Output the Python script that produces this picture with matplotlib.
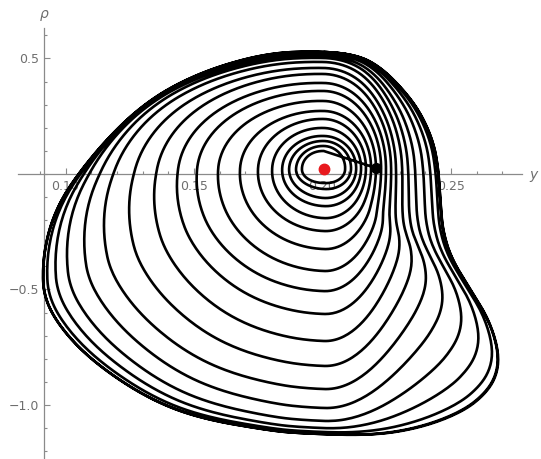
import numpy as np
import matplotlib
matplotlib.use("Agg")
import matplotlib.pyplot as plt
from matplotlib.ticker import FixedLocator, FixedFormatter

# ---------------- data ----------------
eq_point = (0.2006, 0.0216)      # red equilibrium point
start_point = (0.2208, 0.026)    # black initial point

# limit cycle outline (y, rho)
cycle_y = [0.2449, 0.2430, 0.2379, 0.2313, 0.2224, 0.2134, 0.1990, 0.1796,
           0.1589, 0.1418, 0.1290, 0.1173, 0.1068, 0.0998, 0.0951, 0.0928,
           0.0932, 0.1006, 0.1134, 0.1329, 0.1523, 0.1796, 0.1924, 0.2185,
           0.2379, 0.2547, 0.2640, 0.2679, 0.2679, 0.2640, 0.2574, 0.2496,
           0.2465, 0.2457]
cycle_rho = [0.004, 0.134, 0.264, 0.364, 0.463, 0.515, 0.532, 0.524,
             0.463, 0.377, 0.277, 0.147, 0.004, -0.113, -0.242, -0.385,
             -0.532, -0.675, -0.818, -0.965, -1.052, -1.108, -1.121, -1.130,
             -1.095, -1.022, -0.935, -0.848, -0.749, -0.619, -0.502, -0.359,
             -0.242, -0.143]

# successive crossings of the spiral turns (inner -> outer)
top_rho = [0.0995, 0.1212, 0.1428, 0.1645, 0.1991, 0.2381, 0.2727, 0.3160,
           0.3593, 0.3939, 0.4329, 0.4588, 0.4848, 0.5021, 0.5108, 0.5195,
           0.5238, 0.5281]
left_y = [0.1920, 0.1897, 0.1870, 0.1843, 0.1804, 0.1749, 0.1679, 0.1594,
          0.1512, 0.1438, 0.1356, 0.1271, 0.1193, 0.1142, 0.1103, 0.1084,
          0.1072, 0.1066]
bottom_rho = [-0.039, -0.065, -0.104, -0.139, -0.191, -0.247, -0.325, -0.420,
              -0.507, -0.606, -0.723, -0.831, -0.931, -1.013, -1.069, -1.100,
              -1.117, -1.126]
right_y = [0.2088, 0.2111, 0.2131, 0.2150, 0.2169, 0.2189, 0.2208, 0.2228,
           0.2247, 0.2267, 0.2286, 0.2310, 0.2333, 0.2360, 0.2391, 0.2418,
           0.2438, 0.2449]

x_major = [0.10, 0.15, 0.20, 0.25]
x_major_labels = ["0.10", "0.15", "0.20", "0.25"]
y_major = [0.5, -0.5, -1.0]
y_major_labels = ["0.5", "\u22120.5", "\u22121.0"]
x_minor = [round(0.09 + 0.01 * i, 2) for i in range(19)]
y_minor = [round(-1.2 + 0.1 * i, 1) for i in range(19)]

# ---------------- figure ----------------
W, H = 541, 459
fig = plt.figure(figsize=(W / 100, H / 100), dpi=100)
ax = fig.add_axes([0, 0, 1, 1])
x0, x1 = 0.07451, 0.28502
y0, y1 = -1.2338, 0.7532
ax.set_xlim(x0, x1)
ax.set_ylim(y0, y1)

kx = W / (x1 - x0)
ky = H / (y1 - y0)
yc, rc = eq_point

# outer cycle about the equilibrium in display-normalised units,
# smoothed by corner cutting, then put in polar form
P = np.column_stack([(np.array(cycle_y) - yc) * kx,
                     (np.array(cycle_rho) - rc) * ky])
for _ in range(5):
    Q = np.roll(P, -1, axis=0)
    P = np.vstack([np.column_stack([0.75 * P[:, 0] + 0.25 * Q[:, 0],
                                    0.75 * P[:, 1] + 0.25 * Q[:, 1]]),
                   np.column_stack([0.25 * P[:, 0] + 0.75 * Q[:, 0],
                                    0.25 * P[:, 1] + 0.75 * Q[:, 1]])])
    idx = np.arange(len(P)).reshape(2, -1).T.ravel()
    P = P[idx]
th_c = np.arctan2(P[:, 1], P[:, 0])
r_c = np.hypot(P[:, 0], P[:, 1])
order = np.argsort(th_c)
th_c, r_c = th_c[order], r_c[order]


def r_outer(t):
    t = np.mod(np.asarray(t) + np.pi, 2 * np.pi) - np.pi
    return np.interp(t, th_c, r_c, period=2 * np.pi)


n = len(top_rho)
k = np.arange(n)
R_top = (np.array(top_rho) - rc) * ky
R_left = (yc - np.array(left_y)) * kx
R_bot = (rc - np.array(bottom_rho)) * ky
R_right = (np.array(right_y) - yc) * kx
ph_top = np.pi / 2 + 2 * np.pi * k
ph_left = np.pi + 2 * np.pi * k
ph_bot = 1.5 * np.pi + 2 * np.pi * k
ph_right = 2 * np.pi + 2 * np.pi * k

Ro = [r_outer(0.0), r_outer(np.pi / 2), r_outer(np.pi), r_outer(-np.pi / 2)]


def quad_ellipse(t, a_r, b_t, a_l, b_b):
    c, s = np.cos(t), np.sin(t)
    a = np.where(c >= 0, a_r, a_l)
    b = np.where(s >= 0, b_t, b_b)
    return 1.0 / np.sqrt((c / a) ** 2 + (s / b) ** 2)


phi = np.linspace(np.pi / 2, np.pi / 2 + 2 * np.pi * (n + 1), 9000)
rt = np.interp(phi, ph_top, R_top)
rl = np.interp(phi, ph_left, R_left)
rb = np.interp(phi, ph_bot, R_bot)
rr = np.interp(phi, ph_right, R_right)
theta = np.mod(phi, 2 * np.pi)
r_e = quad_ellipse(theta, rr, rt, rl, rb)
corr = r_outer(theta) / quad_ellipse(theta, Ro[0], Ro[1], Ro[2], Ro[3])
w = np.clip((rr / Ro[0] + rt / Ro[1] + rl / Ro[2] + rb / Ro[3]) / 4, 0, 1) ** 4
r = r_e * corr ** w

traj_y = np.concatenate([[start_point[0]], yc + r * np.cos(theta) / kx])
traj_r = np.concatenate([[start_point[1]], rc + r * np.sin(theta) / ky])

ax.plot(traj_y, traj_r, color="black", lw=1.9, zorder=3, solid_capstyle="round")
ax.plot(*start_point, "o", color="black", ms=7, zorder=4)
ax.plot(*eq_point, "o", color="#e8191e", ms=7.5, zorder=4)

# ---------------- Mathematica-like axes ----------------
axis_col = "#8a8a8a"
for s in ["top", "right"]:
    ax.spines[s].set_visible(False)
ax.spines["left"].set_position(("data", 0.0915))
ax.spines["bottom"].set_position(("data", 0.0))
ax.spines["left"].set_bounds(y0, 0.632)
ax.spines["bottom"].set_bounds(0.0815, 0.2776)
for s in ["left", "bottom"]:
    ax.spines[s].set_color(axis_col)
    ax.spines[s].set_linewidth(0.9)

ax.xaxis.set_major_locator(FixedLocator(x_major))
ax.xaxis.set_major_formatter(FixedFormatter(x_major_labels))
ax.xaxis.set_minor_locator(FixedLocator(x_minor))
ax.yaxis.set_major_locator(FixedLocator(y_major))
ax.yaxis.set_major_formatter(FixedFormatter(y_major_labels))
ax.yaxis.set_minor_locator(FixedLocator(y_minor))
ax.tick_params(which="both", direction="in", color=axis_col, width=0.8,
               labelcolor="#6e6e6e", labelsize=9)
ax.tick_params(which="major", length=4.5)
ax.tick_params(which="minor", length=2.5)
ax.tick_params(axis="x", pad=4)
ax.tick_params(axis="y", pad=3)

fig.text(533 / W, 1 - 175 / H, "y", ha="center", va="center", style="italic",
         color="#6e6e6e", fontsize=10)
fig.text(44 / W, 1 - 14 / H, "\u03c1", ha="center", va="center", style="italic",
         color="#6e6e6e", fontsize=10)

fig.savefig("out.png", dpi=100)
